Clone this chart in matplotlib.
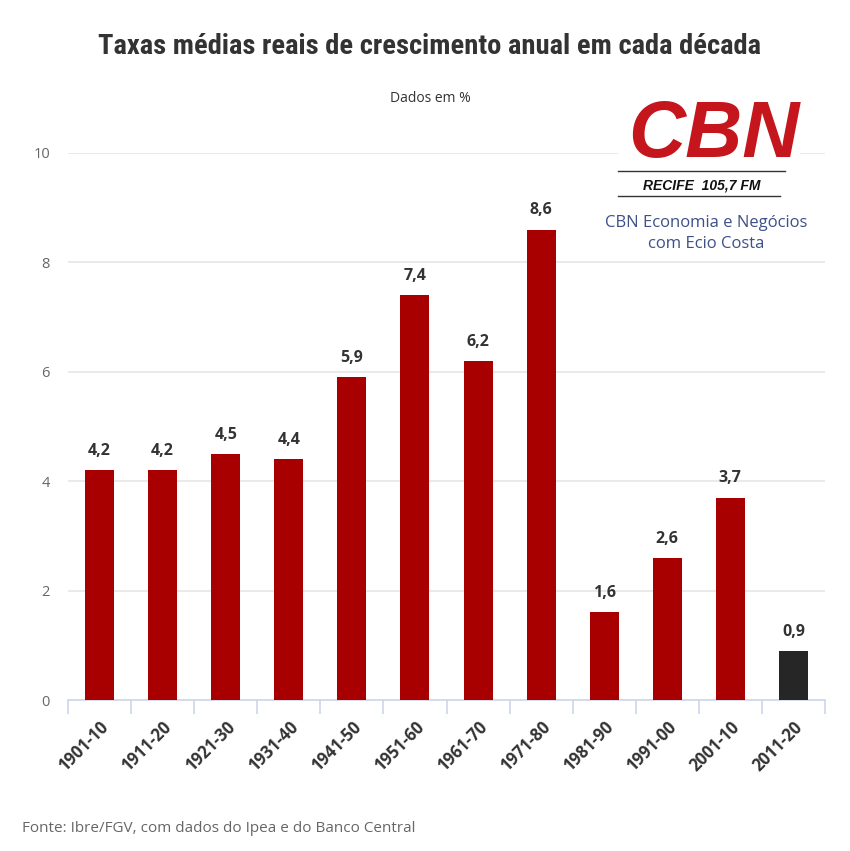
import matplotlib
matplotlib.use("Agg")
import matplotlib.pyplot as plt
from matplotlib import font_manager
from matplotlib.patches import Rectangle
from matplotlib.lines import Line2D

categories = ["1901-10", "1911-20", "1921-30", "1931-40", "1941-50", "1951-60",
              "1961-70", "1971-80", "1981-90", "1991-00", "2001-10", "2011-20"]
values = [4.2, 4.2, 4.5, 4.4, 5.9, 7.4, 6.2, 8.6, 1.6, 2.6, 3.7, 0.9]
value_labels = ["4,2", "4,2", "4,5", "4,4", "5,9", "7,4", "6,2", "8,6", "1,6", "2,6", "3,7", "0,9"]
colors = ["#a80000"] * 11 + ["#262626"]
yticks = [0, 2, 4, 6, 8, 10]

names = {f.name for f in font_manager.fontManager.ttflist}
cond = None
for n in ["Roboto Condensed", "Open Sans Condensed", "Liberation Sans Narrow", "DejaVu Sans Condensed"]:
    if n in names:
        cond = n
        break
base = "Open Sans" if "Open Sans" in names else "DejaVu Sans"
plt.rcParams['font.family'] = [base, 'DejaVu Sans']

W, H = 850, 851
fig = plt.figure(figsize=(8.5, 8.51), dpi=100)
fig.patch.set_facecolor("white")

def fx(px):
    return px / W

def fy(py):
    return 1 - py / H

ax = fig.add_axes([fx(68), fy(700), fx(825) - fx(68), fy(153) - fy(700)])
x = list(range(len(categories)))
ax.bar(x, values, width=0.46, color=colors, zorder=3)
ax.set_xlim(-0.5, len(categories) - 0.5)
ax.set_ylim(0, 10)
ax.set_yticks(yticks)
ax.set_yticklabels([str(t) for t in yticks], color="#666666", fontsize=10.5)
ax.tick_params(axis="y", length=0, pad=13)
ax.grid(axis="y", color="#e6e6e6", linewidth=1.2, zorder=0)
for s in ["top", "right", "left"]:
    ax.spines[s].set_visible(False)
ax.spines["bottom"].set_color("#ccd6eb")
ax.spines["bottom"].set_linewidth(1.2)
ax.set_xticks([i - 0.5 for i in range(len(categories) + 1)], minor=False)
ax.set_xticklabels([])
ax.tick_params(axis="x", length=10, color="#ccd6eb", width=1.2)
for i, c in enumerate(categories):
    ax.annotate(c, xy=(i, 0), xycoords=("data", "data"), xytext=(0, -13),
                textcoords="offset points", rotation=45, ha="right", va="top",
                rotation_mode="anchor", fontsize=12, fontweight="bold", color="#333333")
for i, (v, lab) in enumerate(zip(values, value_labels)):
    ax.annotate(lab, xy=(i, v), xytext=(0, 8), textcoords="offset points",
                ha="center", va="bottom", fontsize=11.5, fontweight="bold", color="#333333")

title_kw = dict(fontsize=20.5, fontweight="bold", color="#333333", ha="center", va="center")
if cond:
    title_kw["family"] = [cond, "DejaVu Sans"]
else:
    title_kw["fontstretch"] = "condensed"
    title_kw["fontsize"] = 17
fig.text(fx(430), fy(46), "Taxas médias reais de crescimento anual em cada década", **title_kw)
fig.text(fx(430), fy(98), "Dados em %", fontsize=10, color="#333333", ha="center", va="center")
fig.text(fx(22), fy(828), "Fonte: Ibre/FGV, com dados do Ipea e do Banco Central",
         fontsize=11, color="#666666", ha="left", va="center")

# logo
fig.patches.append(Rectangle((fx(618), fy(258)), fx(800) - fx(618), fy(95) - fy(258),
                             transform=fig.transFigure, facecolor="white", edgecolor="none", zorder=5))
lfam = ["Liberation Sans", "DejaVu Sans"]
fig.text(fx(714), fy(136), "CBN", family=lfam, fontsize=57, fontweight="bold", fontstyle="italic",
         color="#c4161c", ha="center", va="center", zorder=6)
fig.lines.append(Line2D([fx(618), fx(785)], [fy(171), fy(171)], transform=fig.transFigure,
                        color="#333333", linewidth=1, zorder=6))
fig.lines.append(Line2D([fx(618), fx(780)], [fy(196), fy(196)], transform=fig.transFigure,
                        color="#333333", linewidth=1, zorder=6))
fig.text(fx(702), fy(185), "RECIFE  105,7 FM", family=lfam, fontsize=10, fontweight="bold",
         fontstyle="italic", color="#111111", ha="center", va="center", zorder=6)
fig.text(fx(706), fy(223), "CBN Economia e Negócios", fontsize=12, color="#3d5088",
         ha="center", va="center", zorder=6)
fig.text(fx(706), fy(244), "com Ecio Costa", fontsize=12, color="#3d5088",
         ha="center", va="center", zorder=6)

fig.savefig("out.png", dpi=100, facecolor="white")
